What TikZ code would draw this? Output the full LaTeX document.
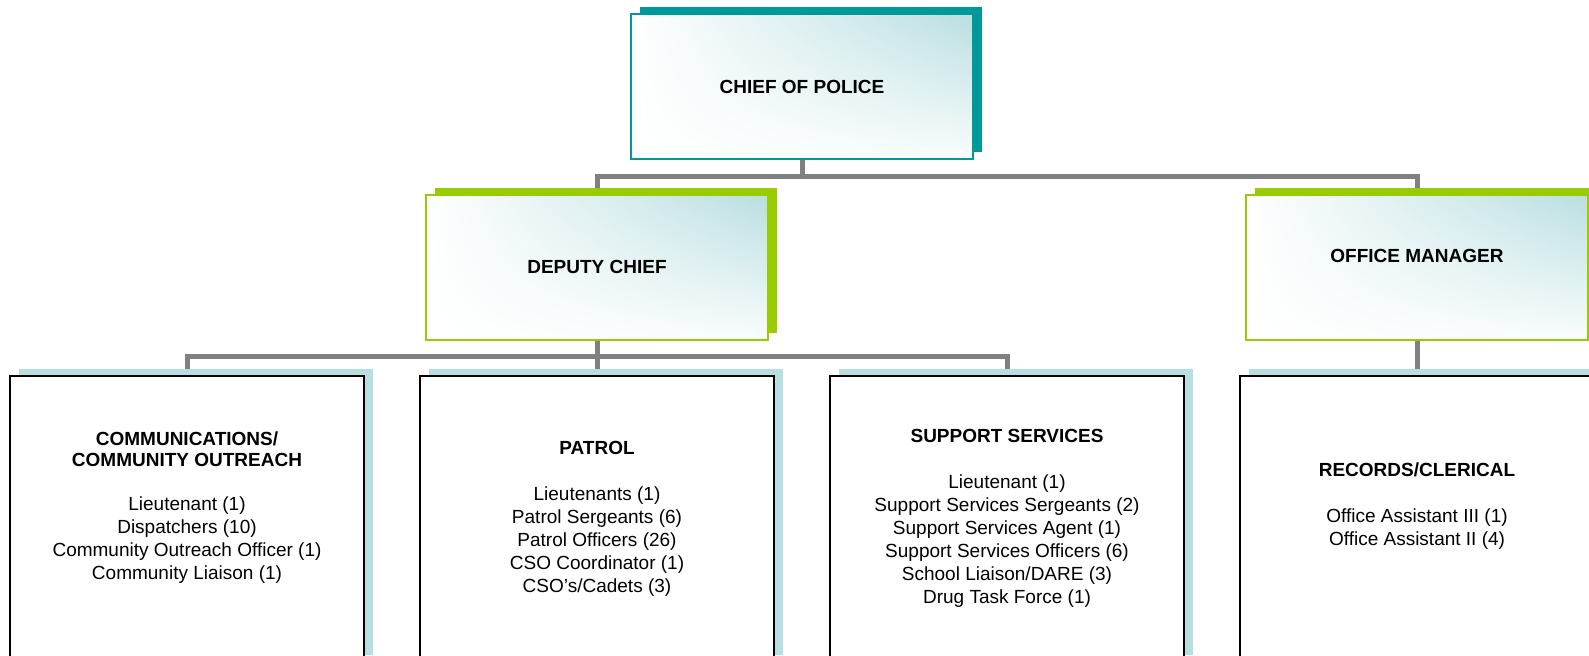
\documentclass[tikz,border=0pt]{standalone}
\usepackage{fontspec}
\setmainfont{Liberation Sans}
\usetikzlibrary{positioning,shadows,shadings,backgrounds}
\definecolor{chiefteal}{HTML}{009999}
\definecolor{deputygreen}{HTML}{99CC00}
\definecolor{unitshade}{HTML}{B7DEE0}
\definecolor{glow}{HTML}{B9DEE1}
\definecolor{linkgray}{HTML}{808080}
\newcommand\orgfont{\fontsize{9.5pt}{11.5pt}\selectfont}
\tikzset{
    % connector lines between the boxes
    link/.style={
           draw=linkgray,
           line width=2.5pt},
    % upper boxes: tinted fill, coloured frame and shadow
    boss/.style={
           rectangle,
           draw=#1,
           line width=0.9pt,
           upper left=white,
           upper right=glow,
           lower left=white,
           lower right=white!92!glow,
           minimum width=171pt,
           minimum height=72.5pt,
           font=\orgfont\bfseries,
           align=center,
           drop shadow={fill=#1, opacity=1, shadow xshift=4.5pt, shadow yshift=3.5pt}},
    % lower boxes with the staff lists
    unit/.style={
           rectangle,
           draw=black,
           line width=1pt,
           fill=white,
           minimum width=177pt,
           minimum height=143pt,
           font=\orgfont,
           align=center,
           drop shadow={fill=unitshade, opacity=1, shadow xshift=4.5pt, shadow yshift=3.5pt}}
}

\begin{document}
\begin{tikzpicture}[x=0.5pt, y=-0.5pt, node distance=17pt]
  \path[use as bounding box, clip] (0,0) rectangle (1589,656);

  \node[boss=chiefteal] (chief) at (802,86.5) {CHIEF OF POLICE};
  \node[boss=deputygreen, below=of chief, xshift=-102.5pt] (deputy) {DEPUTY CHIEF};
  \node[boss=deputygreen, below=of chief, xshift=307.5pt] (office) {OFFICE MANAGER\\\mbox{}};

  \node[unit, below=of deputy, xshift=-205pt] (comm) {\textbf{COMMUNICATIONS/}\\[-1pt]\textbf{COMMUNITY OUTREACH}\\[10.5pt]
    Lieutenant (1)\\Dispatchers (10)\\Community Outreach Officer (1)\\Community Liaison (1)\\[2pt]\mbox{}};
  \node[unit, below=of deputy] (patrol) {\textbf{PATROL}\\[11.5pt]
    Lieutenants (1)\\Patrol Sergeants (6)\\Patrol Officers (26)\\CSO Coordinator (1)\\CSO's/Cadets (3)};
  \node[unit, below=of deputy, xshift=205pt] (support) {\textbf{SUPPORT SERVICES}\\[11.5pt]
    Lieutenant (1)\\Support Services Sergeants (2)\\Support Services Agent (1)\\Support Services Officers (6)\\School Liaison/DARE (3)\\Drug Task Force (1)};
  \node[unit, below=of office] (records) {\textbf{RECORDS/CLERICAL}\\[11.5pt]
    Office Assistant III (1)\\Office Assistant II (4)\\[3pt]\mbox{}};

  % connectors run behind the boxes and their shadows
  \begin{scope}[on background layer]
    \draw[link] (chief.south) -- ++(0,17) -| (deputy.north);
    \draw[link] (chief.south) -- ++(0,17) -| (office.north);
    \draw[link] (deputy.south) -- ++(0,16) -| (comm.north);
    \draw[link] (deputy.south) -- ++(0,16) -| (support.north);
    \draw[link] (deputy.south) -- (patrol.north);
    \draw[link] (office.south) -- (records.north);
  \end{scope}
\end{tikzpicture}
\end{document}
